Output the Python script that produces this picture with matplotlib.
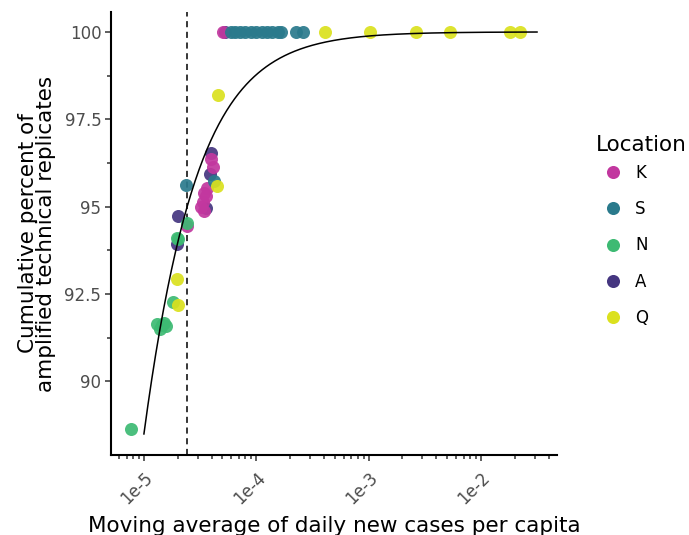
import numpy as np
import matplotlib
matplotlib.use("Agg")
import matplotlib.pyplot as plt
from matplotlib.ticker import LogLocator, FixedLocator, NullFormatter
from matplotlib.lines import Line2D

# Observations per location: moving average of daily new cases per capita (x)
# and cumulative percent of amplified technical replicates (y)
k_x = [5.04e-5, 3.95e-5, 4.1e-5, 3.65e-5, 3.42e-5, 3.55e-5, 3.33e-5, 3.25e-5, 3.45e-5, 2.42e-5]
k_y = [100.0, 96.37, 96.12, 95.52, 95.40, 95.30, 95.12, 94.98, 94.87, 94.44]

s_x = [2.38e-5, 4.2e-5, 5.9e-5, 6.5e-5, 7.2e-5, 7.9e-5, 8.9e-5, 1.0e-4, 1.12e-4, 1.25e-4,
       1.38e-4, 1.55e-4, 1.65e-4, 2.25e-4, 2.6e-4]
s_y = [95.63, 95.74, 100.0, 100.0, 100.0, 100.0, 100.0, 100.0, 100.0, 100.0,
       100.0, 100.0, 100.0, 100.0, 100.0]

n_x = [7.7e-6, 1.3e-5, 1.4e-5, 1.5e-5, 1.45e-5, 1.58e-5, 1.82e-5, 2.02e-5, 1.96e-5, 2.4e-5]
n_y = [88.63, 91.63, 91.49, 91.66, 91.60, 91.57, 92.27, 94.06, 94.10, 94.54]

a_x = [5.3e-5, 3.95e-5, 3.9e-5, 3.55e-5, 2.02e-5, 1.97e-5]
a_y = [100.0, 96.52, 95.92, 94.95, 94.74, 93.92]

q_x = [4.57e-5, 1.98e-5, 2.0e-5, 4.5e-5, 4.1e-4, 1.03e-3, 2.65e-3, 5.3e-3, 1.8e-2, 2.2e-2]
q_y = [98.20, 92.92, 92.17, 95.58, 100.0, 100.0, 100.0, 100.0, 100.0, 100.0]

locations = ["K", "S", "N", "A", "Q"]
draw_order = ["A", "K", "S", "N", "Q"]
colors = {"K": "#c2379f", "S": "#2a7a8c", "N": "#3dba73", "A": "#453680", "Q": "#dbe11e"}
series = {"K": (k_x, k_y), "S": (s_x, s_y), "N": (n_x, n_y), "A": (a_x, a_y), "Q": (q_x, q_y)}

# Logistic fit on log10(x): percent = 100 / (1 + exp(-(b0 + b1*log10 x)))
fit_b0 = 13.79
fit_b1 = 2.35
fit_range = (1e-5, 3.15e-2)
threshold = 2.41e-5

fig = plt.figure(figsize=(6.89, 5.35), dpi=100)
ax = fig.add_axes([0.1611, 0.1495, 0.6473, 0.8281])

for loc in draw_order:
    xs, ys = series[loc]
    ax.scatter(xs, ys, s=88, color=colors[loc], alpha=0.92, linewidths=0, zorder=3)

xf = np.logspace(np.log10(fit_range[0]), np.log10(fit_range[1]), 400)
yf = 100.0 / (1.0 + np.exp(-(fit_b0 + fit_b1 * np.log10(xf))))
ax.plot(xf, yf, color="black", lw=1.1, zorder=4)

ax.axvline(threshold, color="black", lw=1.1, ls=(0, (4, 3)), zorder=2)

ax.set_xscale("log")
ax.set_xlim(10 ** -5.293, 10 ** -1.324)
ax.set_ylim(87.89, 100.57)

ax.xaxis.set_major_locator(FixedLocator([1e-5, 1e-4, 1e-3, 1e-2]))
ax.set_xticklabels(["1e-5", "1e-4", "1e-3", "1e-2"], rotation=45, ha="right",
                   rotation_mode="anchor")
ax.xaxis.set_minor_locator(LogLocator(base=10, subs=np.arange(2, 10), numticks=20))
ax.xaxis.set_minor_formatter(NullFormatter())

ax.set_yticks([90, 92.5, 95, 97.5, 100])
ax.set_yticklabels(["90", "92.5", "95", "97.5", "100"])
ax.set_yticks([91.25, 93.75, 96.25, 98.75], minor=True)

for side in ("top", "right"):
    ax.spines[side].set_visible(False)
for side in ("left", "bottom"):
    ax.spines[side].set_linewidth(1.5)
    ax.spines[side].set_color("black")

ax.tick_params(axis="both", which="major", length=4, width=1.1, color="#333333",
               labelsize=12, labelcolor="#4d4d4d", pad=3)
ax.tick_params(axis="x", which="major", pad=6)
ax.tick_params(axis="both", which="minor", length=3, width=1.1, color="#333333")

ax.set_xlabel("Moving average of daily new cases per capita", fontsize=15.5, labelpad=6)
ax.set_ylabel("Cumulative percent of\namplified technical replicates", fontsize=15.5,
              linespacing=0.9, labelpad=6)

# Legend: title placed as its own text, entries centred below it
fig.text(596 / 689, 1 - 145 / 535, "Location", fontsize=15.5, ha="left", va="center")
handles = [Line2D([], [], marker="o", ls="", markersize=9.4, markeredgewidth=0,
                  color=colors[loc], label=loc) for loc in locations]
leg = fig.legend(handles=handles, loc="center left",
                 bbox_to_anchor=(0.865, 1 - 245.5 / 535), frameon=False, fontsize=12,
                 labelspacing=1.1, handletextpad=0.75,
                 handlelength=1.2, borderaxespad=0)

fig.savefig("out.png", dpi=100)
